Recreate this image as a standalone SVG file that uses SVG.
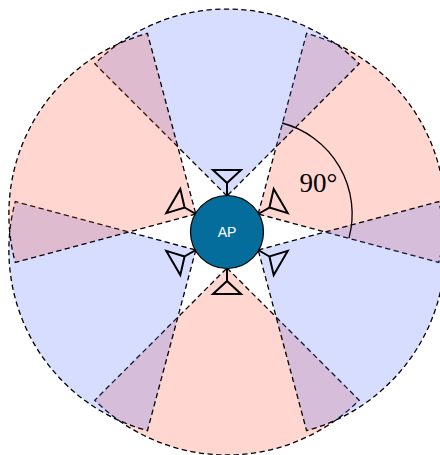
<svg xmlns="http://www.w3.org/2000/svg" width="440" height="455" viewBox="0 0 440 455">
<style>
.sec{stroke:#000;stroke-width:1.3;stroke-dasharray:5.3 3.4;stroke-linejoin:miter}
.b{fill:rgb(70,100,255);fill-opacity:.22}
.r{fill:rgb(255,70,40);fill-opacity:.22}
.ant{fill:none;stroke:#000;stroke-width:2;stroke-linejoin:miter}
</style>
<defs>
<path id="w" d="M227 196L94.8 63.8A187 187 0 0 1 359.2 63.8Z"/>
<path id="a" d="M227 196V183L213 170H241L227 183"/>
</defs>
<g id="sectors">
<use id="sector-ur" href="#w" class="sec r" transform="rotate(60 227 232)"/>
<use id="sector-bottom" href="#w" class="sec r" transform="rotate(180 227 232)"/>
<use id="sector-ll" href="#w" class="sec b" transform="rotate(240 227 232)"/>
<use id="sector-lr" href="#w" class="sec b" transform="rotate(120 227 232)"/>
<use id="sector-top" href="#w" class="sec b"/>
<use id="sector-ul" href="#w" class="sec r" transform="rotate(300 227 232)"/>
</g>
<g id="connectors">
<path d="M282 123A94 94 0 0 1 349 238" fill="none" stroke="#000" stroke-width="1.3"/>
</g>
<g id="antennas">
<use href="#a" class="ant"/>
<use href="#a" class="ant" transform="rotate(60 227 232)"/>
<use href="#a" class="ant" transform="rotate(120 227 232)"/>
<use href="#a" class="ant" transform="rotate(180 227 232)"/>
<use href="#a" class="ant" transform="rotate(240 227 232)"/>
<use href="#a" class="ant" transform="rotate(300 227 232)"/>
</g>
<g id="ap">
<circle cx="227" cy="232" r="36.5" fill="#056d9b" stroke="#000" stroke-width="1.2"/>
<text x="227" y="237" text-anchor="middle" font-family="'Liberation Sans',Arial,sans-serif" font-size="14" fill="#fff">AP</text>
</g>
<g id="label">
<text x="318.5" y="191.5" text-anchor="middle" font-family="'Liberation Serif','Times New Roman',serif" font-size="27" fill="#000">90°</text>
</g>
</svg>
